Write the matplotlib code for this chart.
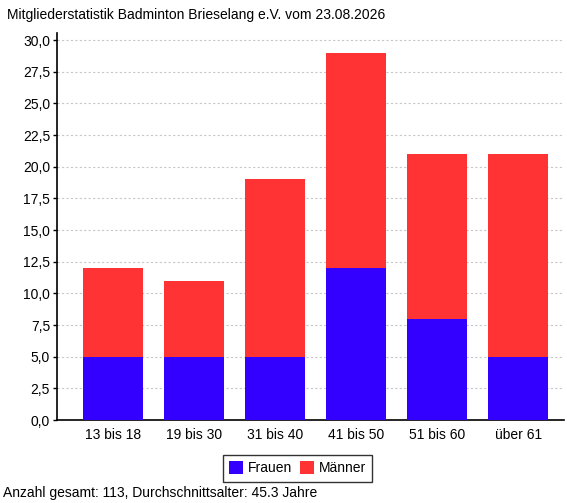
import matplotlib
matplotlib.use('Agg')
import matplotlib.pyplot as plt
from matplotlib.ticker import FuncFormatter, MultipleLocator
import numpy as np

groups = ['13 bis 18', '19 bis 30', '31 bis 40', '41 bis 50', '51 bis 60', 'über 61']
frauen = [5, 5, 5, 12, 8, 5]
maenner = [7, 6, 14, 17, 13, 16]

title = 'Mitgliederstatistik Badminton Brieselang e.V. vom 23.08.2026'
footer = 'Anzahl gesamt: 113, Durchschnittsalter: 45.3 Jahre'


def main():
    plt.rcParams['font.family'] = ['Liberation Sans', 'DejaVu Sans']
    fig = plt.figure(figsize=(5.67, 5.03), dpi=100)
    ax = fig.add_axes([0.1005, 0.165, 0.895, 0.769])

    x = np.arange(len(groups))
    ax.bar(x, frauen, width=0.74, color='#3300ff', label='Frauen', zorder=3)
    ax.bar(x, maenner, width=0.74, bottom=frauen, color='#ff3333',
           label='Männer', zorder=3)

    ax.set_xlim(-0.69, 5.57)
    ax.set_ylim(0, 30.55)
    ax.yaxis.set_major_locator(MultipleLocator(2.5))
    ax.yaxis.set_major_formatter(
        FuncFormatter(lambda v, p: f'{v:.1f}'.replace('.', ',')))
    ax.set_xticks(x)
    ax.set_xticklabels(groups)
    ax.tick_params(axis='x', length=0, pad=6, labelsize=10)
    ax.tick_params(axis='y', length=3, width=1, labelsize=10, pad=2)

    ax.grid(axis='y', color='#c8c8c8', linestyle=(0, (2, 2)), linewidth=0.8,
            zorder=0)
    for side in ('top', 'right'):
        ax.spines[side].set_visible(False)
    for side in ('left', 'bottom'):
        ax.spines[side].set_linewidth(1.2)

    fig.text(0.012, 0.985, title, ha='left', va='top', fontsize=10)
    fig.text(0.005, 0.005, footer, ha='left', va='bottom', fontsize=10)

    fig.legend(loc='center', bbox_to_anchor=(0.525, 0.069), ncol=2,
               frameon=True, fancybox=False, edgecolor='black',
               handlelength=1.0, handleheight=1.1, handletextpad=0.35,
               columnspacing=0.55, borderpad=0.45, fontsize=10)
    legend = fig.legends[0]
    legend.get_frame().set_linewidth(1.0)

    fig.savefig('out.png', dpi=100)


if __name__ == '__main__':
    main()
